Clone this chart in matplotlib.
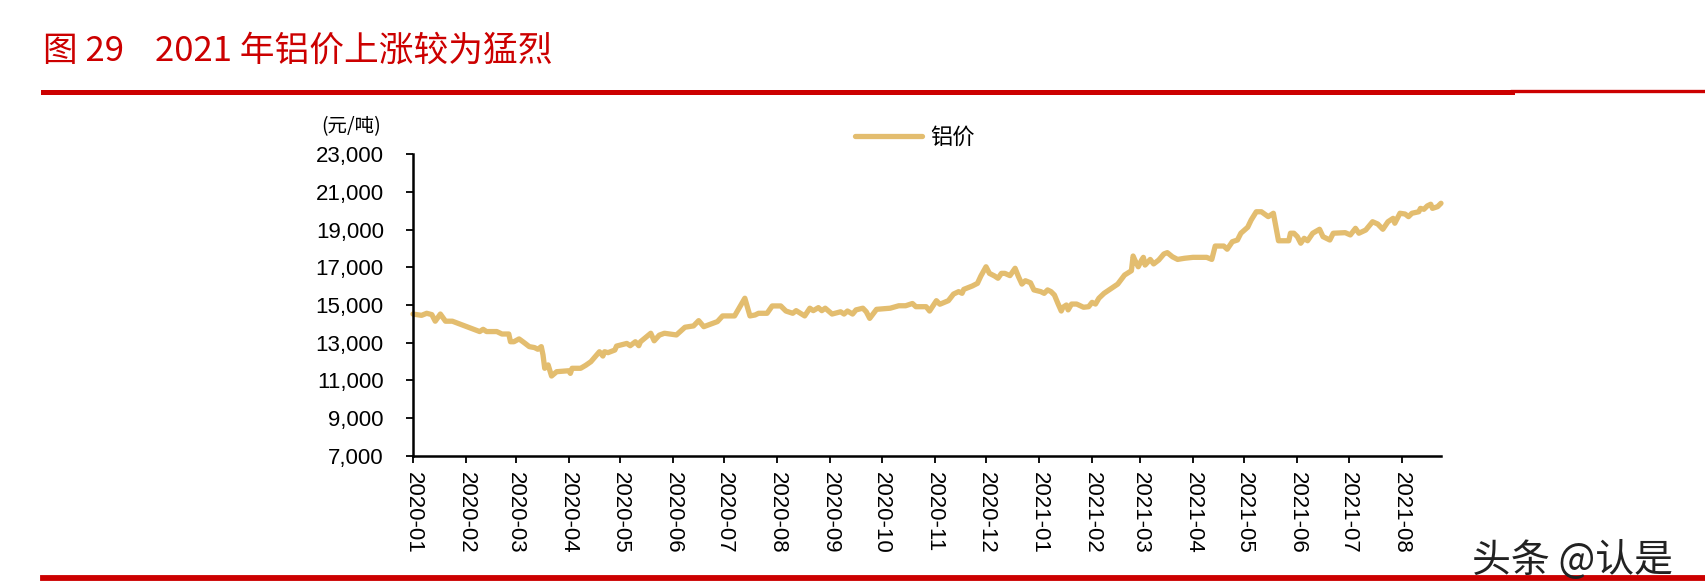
import matplotlib
matplotlib.use("Agg")
import matplotlib.pyplot as plt
import matplotlib.dates as mdates
import pandas as pd
from matplotlib.lines import Line2D

plt.rcParams['font.family'] = ['Liberation Sans', 'Noto Sans CJK SC', 'DejaVu Sans']

title = "图 29    2021 年铝价上涨较为猛烈"
unit_label = "(元/吨)"
series_name = "铝价"
watermark = "头条 @认是"

dates = [
    "2020-01-01", "2020-01-06", "2020-01-09", "2020-01-12", "2020-01-14", "2020-01-17", "2020-01-20", "2020-01-24",
    "2020-02-09", "2020-02-11", "2020-02-13", "2020-02-19", "2020-02-22", "2020-02-26", "2020-02-27", "2020-02-29",
    "2020-03-03", "2020-03-06", "2020-03-09", "2020-03-12", "2020-03-14", "2020-03-16", "2020-03-17", "2020-03-18",
    "2020-03-20", "2020-03-22", "2020-03-25", "2020-04-01", "2020-04-02", "2020-04-03", "2020-04-08", "2020-04-11",
    "2020-04-14", "2020-04-19", "2020-04-21", "2020-04-22", "2020-04-24", "2020-04-28", "2020-04-29", "2020-05-05",
    "2020-05-07", "2020-05-10", "2020-05-12", "2020-05-13", "2020-05-19", "2020-05-21", "2020-05-24", "2020-05-27",
    "2020-06-03", "2020-06-08", "2020-06-13", "2020-06-16", "2020-06-19", "2020-06-27", "2020-06-30", "2020-07-07",
    "2020-07-13", "2020-07-16", "2020-07-19", "2020-07-21", "2020-07-26", "2020-07-29", "2020-08-03", "2020-08-06",
    "2020-08-10", "2020-08-12", "2020-08-17", "2020-08-20", "2020-08-22", "2020-08-25", "2020-08-27", "2020-08-29",
    "2020-09-02", "2020-09-07", "2020-09-09", "2020-09-11", "2020-09-14", "2020-09-16", "2020-09-20", "2020-09-22",
    "2020-09-24", "2020-09-28", "2020-10-06", "2020-10-11", "2020-10-15", "2020-10-19", "2020-10-21", "2020-10-27",
    "2020-10-29", "2020-11-02", "2020-11-04", "2020-11-09", "2020-11-12", "2020-11-15", "2020-11-17", "2020-11-18",
    "2020-11-23", "2020-11-26", "2020-11-28", "2020-12-01", "2020-12-03", "2020-12-06", "2020-12-08", "2020-12-10",
    "2020-12-12", "2020-12-15", "2020-12-18", "2020-12-20", "2020-12-22", "2020-12-24", "2020-12-27", "2020-12-29",
    "2021-01-02", "2021-01-04", "2021-01-06", "2021-01-08", "2021-01-10", "2021-01-12", "2021-01-14", "2021-01-15",
    "2021-01-17", "2021-01-18", "2021-01-20", "2021-01-23", "2021-01-27", "2021-01-30", "2021-02-01", "2021-02-03",
    "2021-02-05", "2021-02-08", "2021-02-16", "2021-02-20", "2021-02-24", "2021-02-25", "2021-02-26", "2021-02-28",
    "2021-03-02", "2021-03-03", "2021-03-04", "2021-03-07", "2021-03-09", "2021-03-12", "2021-03-15", "2021-03-17",
    "2021-03-20", "2021-03-23", "2021-03-27", "2021-04-01", "2021-04-09", "2021-04-12", "2021-04-14", "2021-04-19",
    "2021-04-21", "2021-04-24", "2021-04-27", "2021-04-29", "2021-05-03", "2021-05-05", "2021-05-08", "2021-05-11",
    "2021-05-15", "2021-05-18", "2021-05-21", "2021-05-27", "2021-05-28", "2021-05-30", "2021-06-01", "2021-06-03",
    "2021-06-05", "2021-06-07", "2021-06-10", "2021-06-14", "2021-06-16", "2021-06-20", "2021-06-22", "2021-06-29",
    "2021-07-02", "2021-07-05", "2021-07-07", "2021-07-11", "2021-07-15", "2021-07-18", "2021-07-21", "2021-07-24",
    "2021-07-27", "2021-07-28", "2021-07-31", "2021-08-03", "2021-08-05", "2021-08-07", "2021-08-11", "2021-08-12",
    "2021-08-14", "2021-08-16", "2021-08-18", "2021-08-19", "2021-08-22", "2021-08-24",
]

prices = [
    14520, 14450, 14560, 14490, 14140, 14520, 14140, 14140,
    13590, 13710, 13590, 13590, 13460, 13460, 13050, 13050,
    13200, 13000, 12790, 12740, 12650, 12790, 12350, 11640,
    11820, 11230, 11460, 11510, 11370, 11640, 11640, 11800,
    11990, 12520, 12290, 12520, 12470, 12610, 12820, 12960,
    12840, 13050, 12840, 13050, 13500, 13100, 13400, 13500,
    13410, 13820, 13890, 14170, 13850, 14120, 14420, 14420,
    15360, 14420, 14470, 14560, 14560, 14950, 14950, 14680,
    14560, 14700, 14420, 14830, 14700, 14860, 14700, 14830,
    14520, 14640, 14520, 14680, 14520, 14740, 14830, 14640,
    14290, 14770, 14830, 14960, 14960, 15080, 14910, 14910,
    14680, 15230, 15040, 15230, 15580, 15710, 15620, 15830,
    16010, 16150, 16540, 17030, 16680, 16540, 16420, 16680,
    16680, 16560, 16950, 16500, 16110, 16290, 16180, 15800,
    15710, 15620, 15800, 15710, 15530, 15090, 14680, 14880,
    15000, 14740, 15050, 15050, 14880, 14910, 15140, 15050,
    15360, 15620, 16110, 16590, 16820, 17600, 17390, 17030,
    17390, 17530, 17120, 17420, 17180, 17390, 17710, 17780,
    17560, 17420, 17480, 17530, 17530, 17420, 18130, 18130,
    17960, 18360, 18450, 18810, 19130, 19510, 19950, 19950,
    19690, 19870, 18410, 18410, 18810, 18810, 18630, 18280,
    18540, 18410, 18810, 19020, 18630, 18450, 18810, 18840,
    18720, 19070, 18810, 18980, 19420, 19300, 19020, 19420,
    19600, 19340, 19870, 19830, 19690, 19870, 19950, 20130,
    20080, 20260, 20350, 20130, 20220, 20400,
]

y_ticks = [7000, 9000, 11000, 13000, 15000, 17000, 19000, 21000, 23000]
x_start = "2020-01-01"
x_end = "2021-08-24"

line_color = "#E3BD6F"
red = "#CC0000"

W, H = 1705, 582
fig = plt.figure(figsize=(W / 100, H / 100), dpi=100)

ax = fig.add_axes([413 / W, 1 - 455.7 / H, (1441 - 413) / W, (455.7 - 154.3) / H])
x = pd.to_datetime(dates)
ax.plot(x, prices, color=line_color, lw=3.8, solid_joinstyle='round', solid_capstyle='round', clip_on=False)

ax.set_ylim(7000, 23000)
ax.set_yticks(y_ticks)
ax.set_yticklabels([f"{v:,}" for v in y_ticks])
ax.set_xlim(pd.Timestamp(x_start), pd.Timestamp(x_end))
ax.xaxis.set_major_locator(mdates.MonthLocator())
ax.xaxis.set_major_formatter(mdates.DateFormatter('%Y-%m'))

for s in ['top', 'right']:
    ax.spines[s].set_visible(False)
for s in ['left', 'bottom']:
    ax.spines[s].set_linewidth(1.8)
    ax.spines[s].set_color('black')

ax.tick_params(axis='y', direction='out', length=5, width=1.3, pad=16, labelsize=16, colors='black')
ax.tick_params(axis='x', direction='out', length=5, width=1.3, pad=7, labelsize=16, colors='black')
for lbl in ax.get_xticklabels():
    lbl.set_rotation(-90)
    lbl.set_ha('center')
    lbl.set_va('top')
for lbl in ax.get_yticklabels() + ax.get_xticklabels():
    lbl.set_fontfamily('Liberation Sans')

# unit label
fig.text(351 / W, 1 - 127 / H, unit_label, ha='center', va='center', fontsize=14,
         family=['Noto Sans CJK SC', 'DejaVu Sans'], color='black')

# legend
handle = Line2D([], [], color=line_color, lw=3.8, solid_capstyle='round')
leg = fig.legend([handle], [series_name], loc='center', bbox_to_anchor=(915 / W, 1 - 137 / H),
                 frameon=False, handlelength=3.0, handletextpad=0.4,
                 prop={'family': ['Noto Sans CJK SC', 'DejaVu Sans'], 'size': 16})

# title
fig.text(43 / W, 1 - 51 / H, title, ha='left', va='center', fontsize=25, color=red,
         family=['Noto Sans CJK SC', 'DejaVu Sans'])

# red rules
fig.add_artist(Line2D([43 / W, 1512 / W], [1 - 92 / H, 1 - 92 / H], color=red, lw=3.6, transform=fig.transFigure))
fig.add_artist(Line2D([1512 / W, 1.0], [1 - 91.3 / H, 1 - 91.3 / H], color=red, lw=2.4, transform=fig.transFigure))
fig.add_artist(Line2D([43 / W, 1.0], [1 - 577.5 / H, 1 - 577.5 / H], color=red, lw=4.2, transform=fig.transFigure))

# watermark
fig.text(1572 / W, 1 - 561 / H, watermark, ha='center', va='center', fontsize=28, color='#222222',
         family=['Noto Sans CJK SC', 'DejaVu Sans'])

fig.savefig("out.png", dpi=100)
